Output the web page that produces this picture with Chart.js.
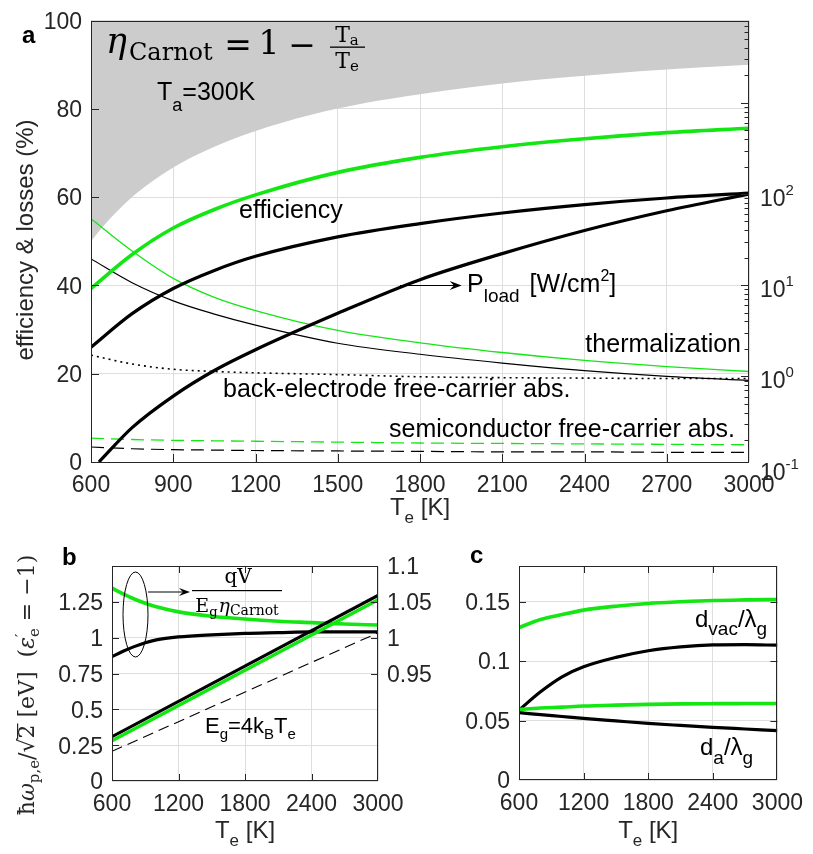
<!DOCTYPE html>
<html><head><meta charset="utf-8">
<script src="https://cdn.jsdelivr.net/npm/chart.js@4.4.1/dist/chart.umd.min.js"></script>
<style>
html,body{margin:0;padding:0;background:#fff}
body{width:813px;height:854px;position:relative;overflow:hidden}
canvas{position:absolute;display:block}
</style></head><body>
<canvas id="ca" width="813" height="530" style="left:0;top:0"></canvas>
<canvas id="cb" width="450" height="324" style="left:0;top:530px"></canvas>
<canvas id="cc" width="363" height="324" style="left:450px;top:530px"></canvas>
<script>
// ---------------- DATA (panel a) ----------------
const Te         = [600, 750, 900, 1050, 1200, 1500, 1800, 2100, 2400, 2700, 3000];
const effGreen   = [39.3, 47.0, 53.0, 57.2, 60.5, 65.6, 69.0, 71.4, 73.2, 74.6, 75.6];
const effBlack   = [26.0, 33.6, 39.3, 43.4, 46.6, 51.0, 54.0, 56.4, 58.3, 59.8, 60.9];
const thermGreen = [55.1, 47.8, 41.6, 37.3, 34.3, 29.8, 27.0, 24.8, 23.0, 21.6, 20.5];
const thermBlack = [46.0, 40.6, 36.5, 33.5, 31.0, 26.9, 24.4, 22.4, 20.7, 19.4, 18.5];
const backElec   = [24.2, 22.2, 21.0, 20.5, 20.2, 19.8, 19.3, 19.1, 19.0, 18.9, 18.9];
const semiGreen  = [5.4, 5.1, 4.9, 4.8, 4.7, 4.5, 4.3, 4.2, 4.1, 4.0, 3.9];
const semiBlack  = [3.4, 3.0, 2.8, 2.7, 2.6, 2.5, 2.4, 2.3, 2.3, 2.2, 2.2];
const TeLoad     = [629, 750, 900, 1050, 1200, 1500, 1800, 2100, 2400, 2700, 3000];
const pLoad      = [0.115, 0.274, 0.608, 1.16, 1.96, 4.92, 11.5, 22.2, 39.8, 65.5, 100];
const TeCarnot   = [600, 650, 700, 750, 800, 900, 1000, 1100, 1200, 1400, 1600, 1800, 2000, 2200, 2400, 2600, 2800, 3000];
const carnot     = [50, 53.8, 57.1, 60, 62.5, 66.7, 70, 72.7, 75, 78.6, 81.3, 83.3, 85, 86.4, 87.5, 88.5, 89.3, 90];
const xTicksA    = [600, 900, 1200, 1500, 1800, 2100, 2400, 2700, 3000];
const yTicksA    = [0, 20, 40, 60, 80, 100];
const yRTickVals = [0.1, 1, 10, 100];
const yRTickExp  = ['-1', '0', '1', '2'];

// ---------------- DATA (panel b) ----------------
const Tb         = [600, 700, 800, 900, 1000, 1200, 1500, 1800, 2100, 2400, 2700, 3000];
const ratioGreen = [1.069, 1.061, 1.054, 1.048, 1.043, 1.036, 1.030, 1.026, 1.023, 1.021, 1.019, 1.0176];
const ratioBlack = [0.9735, 0.981, 0.9875, 0.993, 0.997, 1.001, 1.004, 1.006, 1.007, 1.008, 1.008, 1.008];
const TbLin      = [600, 3000];
const plasmaBlack= [0.309, 1.294];
const plasmaGreen= [0.281, 1.264];
const egLine     = [0.207, 1.034];
const xTicksBC   = [600, 1200, 1800, 2400, 3000];
const yTicksB    = [0, 0.25, 0.5, 0.75, 1, 1.25];
const yRTicksB   = [0.95, 1, 1.05, 1.1];

// ---------------- DATA (panel c) ----------------
const Tc         = [600, 800, 1000, 1200, 1500, 1800, 2100, 2400, 2700, 3000];
const dvacGreen  = [0.1283, 0.135, 0.1392, 0.1429, 0.1462, 0.1485, 0.1499, 0.151, 0.1515, 0.1518];
const dvacBlack  = [0.0588, 0.0742, 0.0868, 0.0952, 0.1031, 0.1087, 0.1120, 0.1136, 0.1138, 0.1134];
const daGreen    = [0.0594, 0.0605, 0.0613, 0.0622, 0.063, 0.0636, 0.064, 0.0642, 0.0643, 0.0644];
const daBlack    = [0.0566, 0.055, 0.0534, 0.0518, 0.0497, 0.0476, 0.0459, 0.0443, 0.0429, 0.0415];
const yTicksC    = [0, 0.05, 0.1, 0.15];

// ---------------- STYLE ----------------
const SANS = "'Liberation Sans', Arial, sans-serif";
const SERIF = "'DejaVu Serif', serif";
const AX = '#262626', GRID = '#dedede', GREEN = '#14e614';
const fs = (sz, fam = SANS, st = '') => (st ? st + ' ' : '') + sz + 'px ' + fam;

function rich(ctx, x, y, segs, align) {
  ctx.textAlign = 'left'; ctx.textBaseline = 'alphabetic';
  let w = 0;
  segs.forEach(s => { ctx.font = s.f; s.w = ctx.measureText(s.t).width; w += (s.dx || 0) + (s.na ? 0 : s.w); });
  let cx = align === 'center' ? x - w / 2 : align === 'right' ? x - w : x;
  segs.forEach(s => { cx += (s.dx || 0); ctx.font = s.f; ctx.fillText(s.t, cx, y + (s.dy || 0)); s.x = cx; if (!s.na) cx += s.w; });
  return segs;
}
function line(xs, ys, color, width, extra) {
  return Object.assign({ data: xs.map((x, i) => ({ x, y: ys[i] })), borderColor: color, borderWidth: width,
    pointRadius: 0, fill: false, cubicInterpolationMode: 'monotone', tension: 0.4 }, extra || {});
}
function xAxis(ticks, h) {
  return { type: 'linear', position: 'bottom', min: ticks[0], max: ticks[ticks.length - 1],
    afterBuildTicks: s => { s.ticks = ticks.map(v => ({ value: v })); },
    afterFit: s => { s.height = h; },
    ticks: { autoSkip: false, maxRotation: 0, minRotation: 0, padding: 10, color: AX, font: { family: SANS, size: 23 }, callback: v => String(v) },
    grid: { color: GRID, drawTicks: false, lineWidth: 1 }, border: { display: false } };
}
function yAxis(min, max, ticks, w, pos, grid) {
  return { type: 'linear', position: pos, min, max,
    afterBuildTicks: s => { s.ticks = ticks.map(v => ({ value: v })); },
    afterFit: s => { s.width = w; },
    ticks: { autoSkip: false, padding: 9, labelOffset: 2, color: AX, font: { family: SANS, size: 23, lineHeight: 1 }, callback: v => String(v) },
    grid: { color: GRID, drawTicks: false, lineWidth: 1, drawOnChartArea: grid }, border: { display: false } };
}
function frame(ctx, a) {
  ctx.strokeStyle = AX; ctx.lineWidth = 1;
  ctx.strokeRect(Math.round(a.left) + 0.5, Math.round(a.top) + 0.5, Math.round(a.right - a.left) - 1, Math.round(a.bottom - a.top) - 1);
}
function hTicks(ctx, a, sc, vals, len, top) {
  vals.forEach(v => { const p = Math.round(sc.getPixelForValue(v)) + 0.5;
    ctx.moveTo(p, a.bottom); ctx.lineTo(p, a.bottom - len);
    if (top) { ctx.moveTo(p, a.top); ctx.lineTo(p, a.top + len); } });
}
function vTicks(ctx, a, sc, vals, len, side) {
  vals.forEach(v => { const p = Math.round(sc.getPixelForValue(v)) + 0.5;
    if (side === 'left') { ctx.moveTo(a.left, p); ctx.lineTo(a.left + len, p); }
    else { ctx.moveTo(a.right, p); ctx.lineTo(a.right - len, p); } });
}
function arrow(ctx, x0, y0, x1, y, hl, hw) {
  ctx.beginPath(); ctx.moveTo(x0, y); ctx.lineTo(x1 - hl * 0.6, y); ctx.stroke();
  ctx.beginPath(); ctx.moveTo(x1, y); ctx.lineTo(x1 - hl, y - hw); ctx.lineTo(x1 - hl * 0.65, y); ctx.lineTo(x1 - hl, y + hw); ctx.closePath(); ctx.fill();
}
const baseOpts = (pad, scales) => ({ responsive: false, animation: false, devicePixelRatio: 1,
  layout: { padding: pad }, plugins: { legend: { display: false }, tooltip: { enabled: false } }, scales });

// ---------------- PANEL A ----------------
new Chart(document.getElementById('ca'), {
  type: 'line',
  data: { datasets: [
    line(TeLoad, pLoad, '#000', 3.2, { yAxisID: 'yR' }),
    line(Te, effGreen, GREEN, 3.6),
    line(Te, effBlack, '#000', 3.2),
    line(Te, thermGreen, GREEN, 1.3),
    line(Te, thermBlack, '#000', 1.2),
    line(Te, backElec, '#000', 1.6, { borderDash: [2, 4] }),
    line(Te, semiGreen, GREEN, 1.3, { borderDash: [13, 7] }),
    line(Te, semiBlack, '#000', 1.2, { borderDash: [13, 7] }),
    line(TeCarnot, carnot, 'rgba(0,0,0,0)', 0, { fill: 'end', backgroundColor: '#cccccc' })
  ] },
  options: baseOpts({ top: 14, left: 0, right: 0, bottom: 0 }, {
    x: xAxis(xTicksA, 68),
    y: yAxis(0, 100, yTicksA, 91, 'left', true),
    yR: { type: 'logarithmic', position: 'right', min: 0.115, max: 8000, afterFit: s => { s.width = 64; },
      ticks: { display: false }, grid: { display: false }, border: { display: false } }
  }),
  plugins: [{ id: 'decoA', afterDraw(chart) {
    const { ctx, chartArea: a, scales: { x, y, yR } } = chart;
    ctx.save();
    frame(ctx, a);
    ctx.beginPath();
    hTicks(ctx, a, x, xTicksA.slice(1, -1), 8, false);
    vTicks(ctx, a, y, yTicksA.slice(1, -1), 8, 'left');
    for (let e = -1; e <= 3; e++) for (let k = 1; k <= 9; k++) {
      const v = k * Math.pow(10, e); if (v < yR.min || v > yR.max) continue;
      const p = Math.round(yR.getPixelForValue(v)) + 0.5;
      ctx.moveTo(a.right, p); ctx.lineTo(a.right - (k === 1 ? 8 : 4.5), p);
    }
    ctx.stroke();
    ctx.fillStyle = AX;
    yRTickVals.forEach((v, i) => { const p = yR.getPixelForValue(v);
      rich(ctx, a.right + 11, p + 12, [{ t: '10', f: fs(23) }, { t: yRTickExp[i], f: fs(15), dy: -11 }]); });
    // axis titles
    ctx.save(); ctx.translate(26, 240); ctx.rotate(-Math.PI / 2); ctx.textAlign = 'center'; ctx.textBaseline = 'middle';
    ctx.font = fs(24); ctx.fillText('efficiency & losses (%)', 0, 0); ctx.restore();
    rich(ctx, (a.left + a.right) / 2, 515, [{ t: 'T', f: fs(24) }, { t: 'e', f: fs(17), dy: 8 }, { t: ' [K]', f: fs(24) }], 'center');
    ctx.fillStyle = '#000';
    ctx.font = fs(24, SANS, 'bold'); ctx.textAlign = 'left'; ctx.fillText('a', 22, 43);
    // Carnot formula
    ctx.font = fs(35, SERIF, 'italic'); ctx.fillText('η', 106, 53);
    ctx.font = fs(24, SERIF); ctx.fillText('Carnot', 129, 60);
    ctx.font = fs(33, SERIF); ctx.textAlign = 'center';
    ctx.fillText('=', 238, 56); ctx.fillText('1', 269, 54); ctx.fillText('−', 302, 56);
    ctx.fillRect(330, 46.5, 35, 1.3);
    rich(ctx, 347, 42, [{ t: 'T', f: fs(22, SERIF) }, { t: 'a', f: fs(15, SERIF), dy: 3 }], 'center');
    rich(ctx, 347, 68, [{ t: 'T', f: fs(22, SERIF) }, { t: 'e', f: fs(15, SERIF), dy: 3 }], 'center');
    rich(ctx, 157, 100, [{ t: 'T', f: fs(25) }, { t: 'a', f: fs(18), dy: 11 }, { t: '=300K', f: fs(25) }]);
    // annotations
    rich(ctx, 239, 218, [{ t: 'efficiency', f: fs(25) }]);
    rich(ctx, 741, 352, [{ t: 'thermalization', f: fs(25) }], 'right');
    rich(ctx, 223, 397, [{ t: 'back-electrode free-carrier abs.', f: fs(25) }]);
    rich(ctx, 735, 437, [{ t: 'semiconductor free-carrier abs.', f: fs(25) }], 'right');
    rich(ctx, 467, 292, [{ t: 'P', f: fs(25) }, { t: 'load', f: fs(19), dy: 10 }, { t: '[W/cm', f: fs(25), dx: 10 }, { t: '2', f: fs(16), dy: -11 }, { t: ']', f: fs(25) }]);
    ctx.strokeStyle = '#000'; ctx.lineWidth = 1.2;
    const ay = Math.round(y.getPixelForValue(40)) + 0.5;
    arrow(ctx, x.getPixelForValue(1727), 0, x.getPixelForValue(1952), ay, 12, 4.5);
    ctx.restore();
  } }]
});

// ---------------- PANEL B ----------------
new Chart(document.getElementById('cb'), {
  type: 'line',
  data: { datasets: [
    line(TbLin, plasmaGreen, GREEN, 3.6, { cubicInterpolationMode: 'default', tension: 0 }),
    line(TbLin, plasmaBlack, '#000', 3.2, { cubicInterpolationMode: 'default', tension: 0 }),
    line(TbLin, egLine, '#000', 1.1, { cubicInterpolationMode: 'default', tension: 0, borderDash: [11, 6] }),
    line(Tb, ratioGreen, GREEN, 3.6, { yAxisID: 'yR' }),
    line(Tb, ratioBlack, '#000', 3.2, { yAxisID: 'yR' })
  ] },
  options: baseOpts({ top: 36, left: 0, right: 0, bottom: 0 }, {
    x: xAxis(xTicksBC, 73),
    y: yAxis(0, 1.5, yTicksB, 112, 'left', true),
    yR: yAxis(0.8, 1.1, yRTicksB, 72, 'right', false)
  }),
  plugins: [{ id: 'decoB', afterDraw(chart) {
    const { ctx, chartArea: a, scales: { x, y, yR } } = chart;
    ctx.save();
    frame(ctx, a);
    ctx.beginPath();
    hTicks(ctx, a, x, xTicksBC.slice(1, -1), 7, true);
    vTicks(ctx, a, y, yTicksB.slice(1), 7, 'left');
    vTicks(ctx, a, yR, yRTicksB.slice(0, -1), 7, 'right');
    ctx.stroke();
    ctx.fillStyle = AX;
    rich(ctx, (a.left + a.right) / 2, 308, [{ t: 'T', f: fs(24) }, { t: 'e', f: fs(17), dy: 8 }, { t: ' [K]', f: fs(24) }], 'center');
    // rotated y title (math)
    ctx.save(); ctx.translate(34, 155); ctx.rotate(-Math.PI / 2);
    const M = 22, S = 15;
    const segs = rich(ctx, 0, 0, [
      { t: 'ħ', f: fs(M, SERIF) }, { t: 'ω', f: fs(M, SERIF, 'italic') }, { t: 'p,e', f: fs(S, SERIF), dy: 5 },
      { t: '/', f: fs(M, SERIF) }, { t: '√', f: fs(M, SERIF) }, { t: '2', f: fs(M, SERIF) },
      { t: ' [eV]  (', f: fs(M, SERIF) }, { t: 'ε', f: fs(M, SERIF, 'italic') }, { t: '′', f: fs(S, SERIF), dy: -8, na: true },
      { t: 'e', f: fs(S, SERIF), dy: 5 }, { t: ' = −1)', f: fs(M, SERIF) }], 'center');
    ctx.fillStyle = AX; ctx.fillRect(segs[5].x - 1, -17, segs[5].w + 2, 1.2);
    ctx.restore();
    ctx.fillStyle = '#000';
    ctx.font = fs(24, SANS, 'bold'); ctx.textAlign = 'left'; ctx.fillText('b', 62, 35);
    rich(ctx, 238, 53, [{ t: 'qV', f: fs(20, SERIF) }], 'center');
    ctx.fillRect(192, 60, 90, 1.2);
    rich(ctx, 237, 82, [{ t: 'E', f: fs(19, SERIF) }, { t: 'g', f: fs(13, SERIF), dy: 4 }, { t: 'η', f: fs(19, SERIF, 'italic'), dx: 1 }, { t: 'Carnot', f: fs(14, SERIF), dy: 3 }], 'center');
    rich(ctx, 205, 203, [{ t: 'E', f: fs(22) }, { t: 'g', f: fs(15), dy: 6 }, { t: '=4k', f: fs(22) }, { t: 'B', f: fs(15), dy: 6 }, { t: 'T', f: fs(22) }, { t: 'e', f: fs(15), dy: 6 }]);
    ctx.strokeStyle = '#000'; ctx.lineWidth = 1;
    ctx.beginPath(); ctx.ellipse(135.5, 84.5, 12.5, 42.5, 0, 0, Math.PI * 2); ctx.stroke();
    arrow(ctx, 148, 0, 190, 62, 11, 4);
    ctx.restore();
  } }]
});

// ---------------- PANEL C ----------------
new Chart(document.getElementById('cc'), {
  type: 'line',
  data: { datasets: [
    line(Tc, dvacGreen, GREEN, 3.6),
    line(Tc, daGreen, GREEN, 3.6),
    line(Tc, dvacBlack, '#000', 3.2),
    line(Tc, daBlack, '#000', 3.2)
  ] },
  options: baseOpts({ top: 36, left: 0, right: 28, bottom: 0 }, {
    x: xAxis(xTicksBC, 74),
    y: yAxis(0, 0.18, yTicksC, 69, 'left', true)
  }),
  plugins: [{ id: 'decoC', afterDraw(chart) {
    const { ctx, chartArea: a, scales: { x, y } } = chart;
    ctx.save();
    frame(ctx, a);
    ctx.beginPath();
    hTicks(ctx, a, x, xTicksBC.slice(1, -1), 7, true);
    vTicks(ctx, a, y, yTicksC.slice(1), 7, 'left');
    vTicks(ctx, a, y, yTicksC.slice(1), 7, 'right');
    ctx.stroke();
    ctx.fillStyle = AX;
    rich(ctx, (a.left + a.right) / 2, 308, [{ t: 'T', f: fs(24) }, { t: 'e', f: fs(17), dy: 8 }, { t: ' [K]', f: fs(24) }], 'center');
    ctx.fillStyle = '#000';
    ctx.font = fs(24, SANS, 'bold'); ctx.textAlign = 'left'; ctx.fillText('c', 20, 33);
    rich(ctx, 245, 97, [{ t: 'd', f: fs(24) }, { t: 'vac', f: fs(19), dy: 8 }, { t: '/λ', f: fs(24) }, { t: 'g', f: fs(19), dy: 8 }]);
    rich(ctx, 250, 225, [{ t: 'd', f: fs(24) }, { t: 'a', f: fs(19), dy: 9 }, { t: '/λ', f: fs(24) }, { t: 'g', f: fs(19), dy: 9 }]);
    ctx.restore();
  } }]
});
</script>
</body></html>
